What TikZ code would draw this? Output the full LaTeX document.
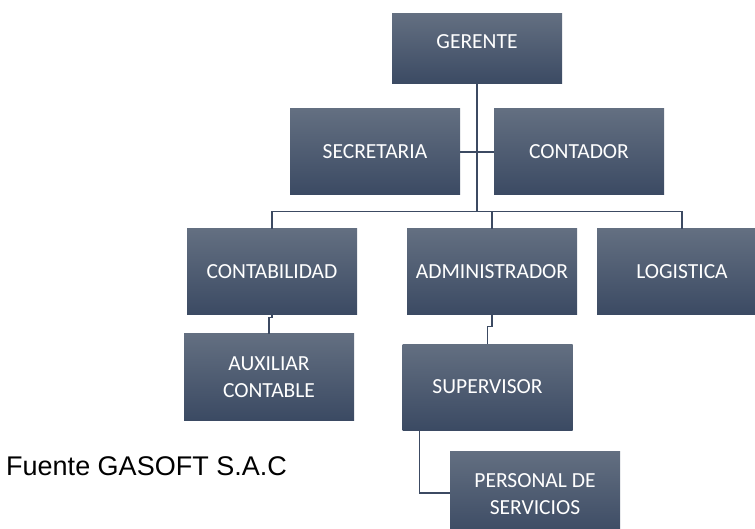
\documentclass[tikz,border=0pt]{standalone}
\usepackage{fontspec}
\usepackage{tikz}
\usetikzlibrary{calc,positioning}

\newfontfamily\cajafont{Carlito}
\newfontfamily\fuentefont{Liberation Sans}

\definecolor{cajaarriba}{RGB}{99,111,129}
\definecolor{cajaabajo}{RGB}{59,74,99}
\definecolor{azulgris}{RGB}{60,74,98}

\begin{document}
\begin{tikzpicture}[x=1pt,y=-1pt,
		caja/.style={rectangle, top color=cajaarriba, bottom color=cajaabajo, draw=none,
			minimum width=170pt, minimum height=86pt, inner sep=0pt, align=center,
			text=white, font=\cajafont\fontsize{21.5}{27}\selectfont},
		conector/.style={draw=azulgris, line width=1.2pt}]
		
		\clip (0,0) rectangle (755,529);
		
		% primer nivel
		\node[caja, minimum height=70pt, text height=14pt, text depth=14.5pt] (gerente) at (477,49) {GERENTE};
		\node[caja] (secretaria) at (375,152) {SECRETARIA};
		\node[caja] (contador) at (579,152) {CONTADOR};
		
		% areas
		\node[caja] (contabilidad) at (272,272) {CONTABILIDAD};
		\node[caja] (administrador) at (492,272) {ADMINISTRADOR};
		\node[caja] (logistica) at (682,272) {LOGISTICA};
		
		\node[caja] (auxiliar) at (269,377) {AUXILIAR\\CONTABLE};
		\node[caja] (supervisor) at (487.5,387) {SUPERVISOR};
		\node[caja] (personal) at (535,494) {PERSONAL DE\\SERVICIOS};
		
		\coordinate (tronco) at (477,212);
		
		\draw[conector] (gerente) -- (tronco);
		\draw[conector] (secretaria) -- (contador);
		\draw[conector] (contabilidad.north) -- ++(0,-17) -| (logistica.north);
		\draw[conector] (administrador.north) -- ++(0,-17);
		\draw[conector] (contabilidad.south) -- ++(0,2) -| (auxiliar.north);
		\draw[conector] (administrador.south) -- ++(0,11) -| (supervisor.north);
		\draw[conector] ([xshift=17pt]supervisor.south west) |- ([yshift=1pt]personal.west);
		
		\node[anchor=base east, inner sep=0pt, font=\fuentefont\fontsize{27}{32}\selectfont] (fuente) at (287,475) {Fuente GASOFT S.A.C};
	\end{tikzpicture}
\end{document}
